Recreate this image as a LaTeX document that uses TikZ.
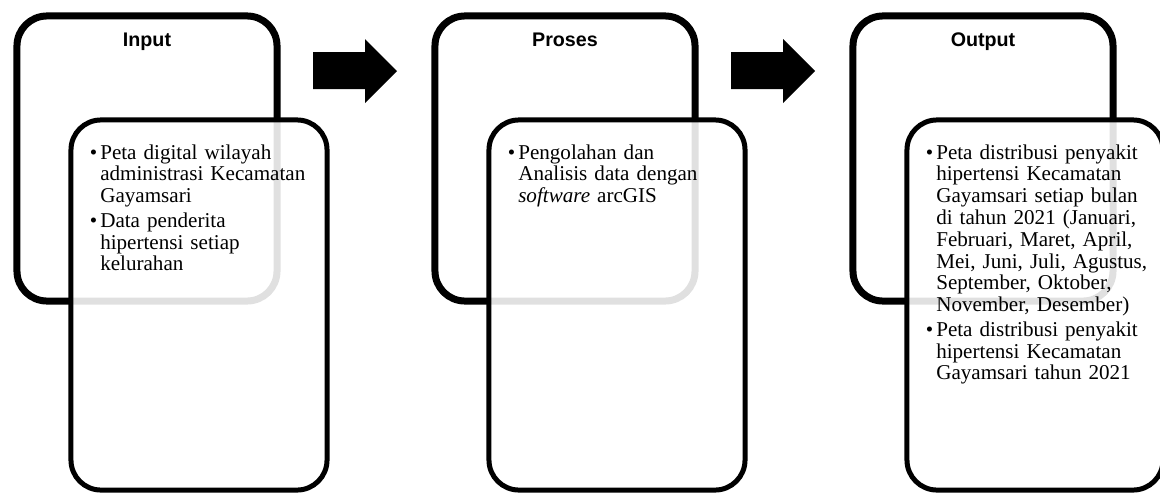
\documentclass[tikz,border=0pt]{standalone}
\usepackage{fontspec}
\setmainfont{Liberation Serif}
\newfontfamily\headfont{Liberation Sans}
\usepackage{enumitem}

\tikzset{
  backbox/.style={draw,fill=white,line width=0.175cm,rounded corners=0.75cm,minimum width=6.5cm,minimum height=7.125cm},
  frontbox/.style={draw,fill=white,fill opacity=0.88,line width=0.125cm,rounded corners=0.75cm,minimum width=6.4cm,minimum height=9.25cm},
  headtext/.style={anchor=base,font=\headfont\bfseries\fontsize{14}{16}\selectfont},
  bodytext/.style={anchor=north west,inner sep=0pt,text width=5.6cm,align=left,font=\fontsize{15}{15.5}\selectfont},
  blockarrow/.style={fill=black}
}

\newcommand{\pointlist}[1]{\begin{itemize}[leftmargin=0.25cm,labelsep=0.075cm,itemsep=2pt,topsep=0pt,parsep=0pt,partopsep=0pt,label=\textbullet]#1\end{itemize}}

\begin{document}
\begin{tikzpicture}[x=0.025cm,y=-0.025cm]
  \useasboundingbox (0,0) rectangle (1160,495);

  % Input
  \node[backbox] (back1) at (147,158.5) {};
  \node[headtext] (ttl1) at (147,46) {Input};
  \node[frontbox] (front1) at (199,305) {};
  \node[bodytext] (txt1) at (90,137) {\pointlist{
    \item Peta digital wilayah\\ administrasi Kecamatan\\ Gayamsari
    \item Data penderita\\ hipertensi setiap\\ kelurahan}};

  % Proses
  \node[backbox] (back2) at (565,158.5) {};
  \node[headtext] (ttl2) at (565,46) {Proses};
  \node[frontbox] (front2) at (617,305) {};
  \node[bodytext] (txt2) at (508,137) {\pointlist{
    \item Pengolahan dan\\ Analisis data dengan\\ \textit{software} arcGIS}};

  % Output
  \node[backbox] (back3) at (983,158.5) {};
  \node[headtext] (ttl3) at (983,46) {Output};
  \node[frontbox] (front3) at (1035,305) {};
  \node[bodytext] (txt3) at (926,137) {\pointlist{
    \item Peta distribusi penyakit\\ hipertensi Kecamatan\\ Gayamsari setiap bulan\\ di tahun 2021 (Januari,\\ Februari, Maret, April,\\ Mei, Juni, Juli, Agustus,\\ September, Oktober,\\ November, Desember)
    \item Peta distribusi penyakit\\ hipertensi Kecamatan\\ Gayamsari tahun 2021}};

  % block arrows
  \fill[blockarrow] (313,52) -- (365,52) -- (365,39) -- (397,71) -- (365,103) -- (365,89) -- (313,89) -- cycle;
  \fill[blockarrow] (731,52) -- (783,52) -- (783,39) -- (815,71) -- (783,103) -- (783,89) -- (731,89) -- cycle;
\end{tikzpicture}
\end{document}
